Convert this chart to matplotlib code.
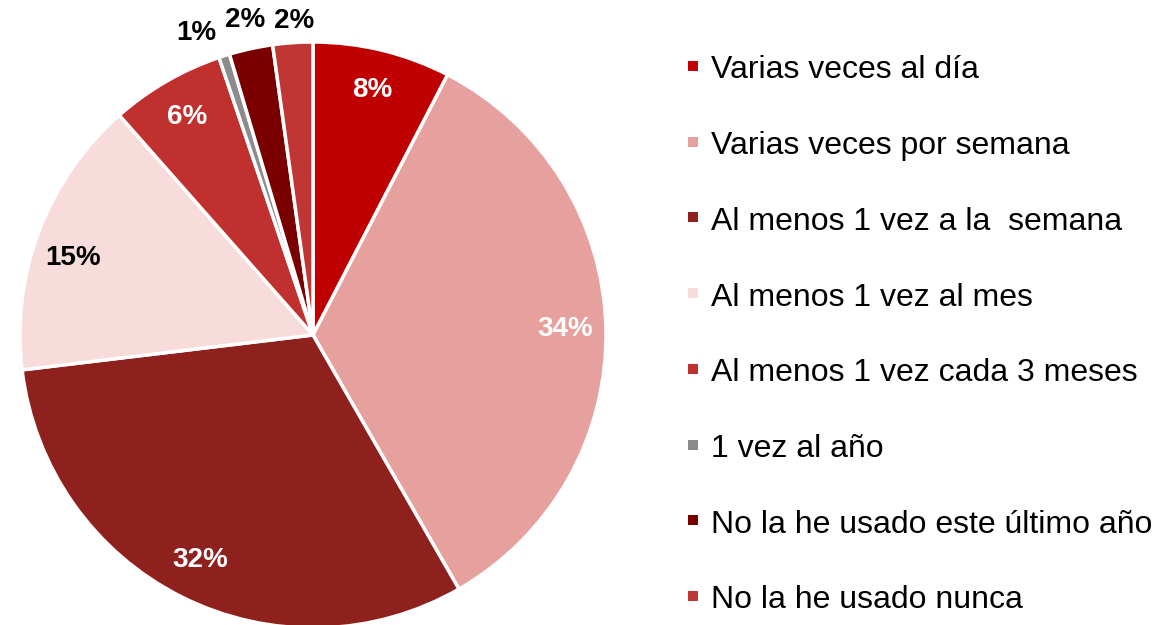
import matplotlib
matplotlib.use("Agg")
import matplotlib.pyplot as plt
import numpy as np
from matplotlib.patches import Rectangle

plt.rcParams['font.family'] = ['Liberation Sans', 'DejaVu Sans']

categories = ["Varias veces al día", "Varias veces por semana", "Al menos 1 vez a la  semana",
              "Al menos 1 vez al mes", "Al menos 1 vez cada 3 meses", "1 vez al año",
              "No la he usado este último año", "No la he usado nunca"]
values = [7.6, 34.1, 31.4, 15.4, 6.3, 0.6, 2.4, 2.2]
labels = ["8%", "34%", "32%", "15%", "6%", "1%", "2%", "2%"]
colors = ["#C00000", "#E6A09E", "#8E201E", "#F8DCDC", "#C0302E", "#8C8C8C", "#7A0000", "#BF3634"]
label_colors = ["white", "white", "white", "black", "white", "black", "black", "black"]
inside = [True, True, True, True, True, False, False, False]

W, H = 1157, 625
fig = plt.figure(figsize=(W / 100, H / 100), dpi=100)
cx, cy, R = 313, 335, 293
ax = fig.add_axes([(cx - R) / W, (H - cy - R) / H, 2 * R / W, 2 * R / H])
wedges, _ = ax.pie(values, colors=colors, startangle=90, counterclock=False,
                   wedgeprops=dict(edgecolor="white", linewidth=2.5))
ax.set_xlim(-1, 1)
ax.set_ylim(-1, 1)
ax.set_aspect('equal')
ax.axis('off')

shift = {0: 0, 1: 0, 2: 0, 3: 3, 4: 0, 5: 3.5, 6: 0, 7: -0.5}
radius = {5: 1.105, 6: 1.10, 7: 1.075}
for i, w in enumerate(wedges):
    mid = np.deg2rad((w.theta1 + w.theta2) / 2 + shift[i])
    r = 0.86 if inside[i] else radius[i]
    ax.text(r * np.cos(mid), r * np.sin(mid), labels[i], ha="center", va="center",
            fontsize=20, fontweight="bold", color=label_colors[i], clip_on=False)

# legend
y0, dy = 67, 75.7
for i in range(len(categories)):
    y = y0 + i * dy
    fig.patches.append(Rectangle((688 / W, (H - y - 4) / H), 10 / W, 10 / H,
                                 transform=fig.transFigure, facecolor=colors[i], edgecolor="none"))
    fig.text(711 / W, (H - y) / H, categories[i], ha="left", va="center_baseline",
             fontsize=23, color="black")

fig.savefig("out.png", dpi=100)
